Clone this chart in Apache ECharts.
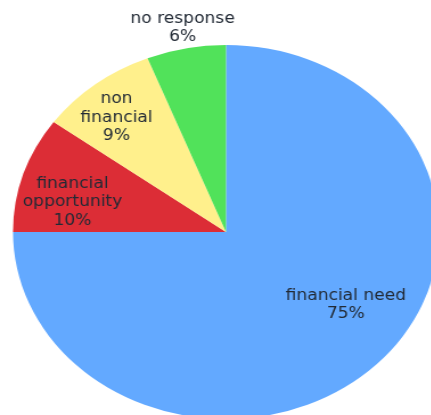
<!DOCTYPE html>
<html>
<head>
<meta charset="utf-8">
<script src="https://cdn.jsdelivr.net/npm/echarts@6/dist/echarts.min.js"></script>
<style>
  html, body { margin: 0; padding: 0; background: #fff; overflow: hidden; }
  /* the source pie is stretched sideways, so draw a circle and widen it */
  #chart { width: 379px; height: 415px; transform: scaleX(1.139); transform-origin: 0 0; }
</style>
</head>
<body>
<div id="chart"></div>
<script>
const categories = ['financial need', 'financial opportunity', 'non financial', 'no response']
const labelNames = ['financial need', 'financial\nopportunity', 'non\nfinancial', 'no response']
const values = [75, 10, 9, 6]
const colors = ['#63a9ff', '#dc2d36', '#fff08c', '#51e25a']

// nudges from the default inside spot to where the source puts each label
const labelShift = [[37, 5], [-43, 0], [-37, -38], [-20, -109]]

const chart = echarts.init(document.getElementById('chart'), null, { renderer: 'canvas' })

const data = categories.map((name, i) => ({
  name: name,
  value: values[i],
  itemStyle: { color: colors[i] }
}))

chart.setOption({
  animation: false,
  series: [{
    type: 'pie',
    center: [198.4, 232],
    radius: 187,
    startAngle: 90,
    clockwise: true,
    avoidLabelOverlap: false,
    data: data,
    label: {
      show: true,
      position: 'inside',
      align: 'center',
      color: '#222a35',
      fontFamily: 'DejaVu Sans',
      fontSize: 15,
      lineHeight: 18.5,
      formatter: p => labelNames[p.dataIndex] + '\n' + p.value + '%'
    },
    labelLine: { show: false },
    labelLayout: p => ({ dx: labelShift[p.dataIndex][0], dy: labelShift[p.dataIndex][1] }),
    emphasis: { disabled: true }
  }]
})
</script>
</body>
</html>
